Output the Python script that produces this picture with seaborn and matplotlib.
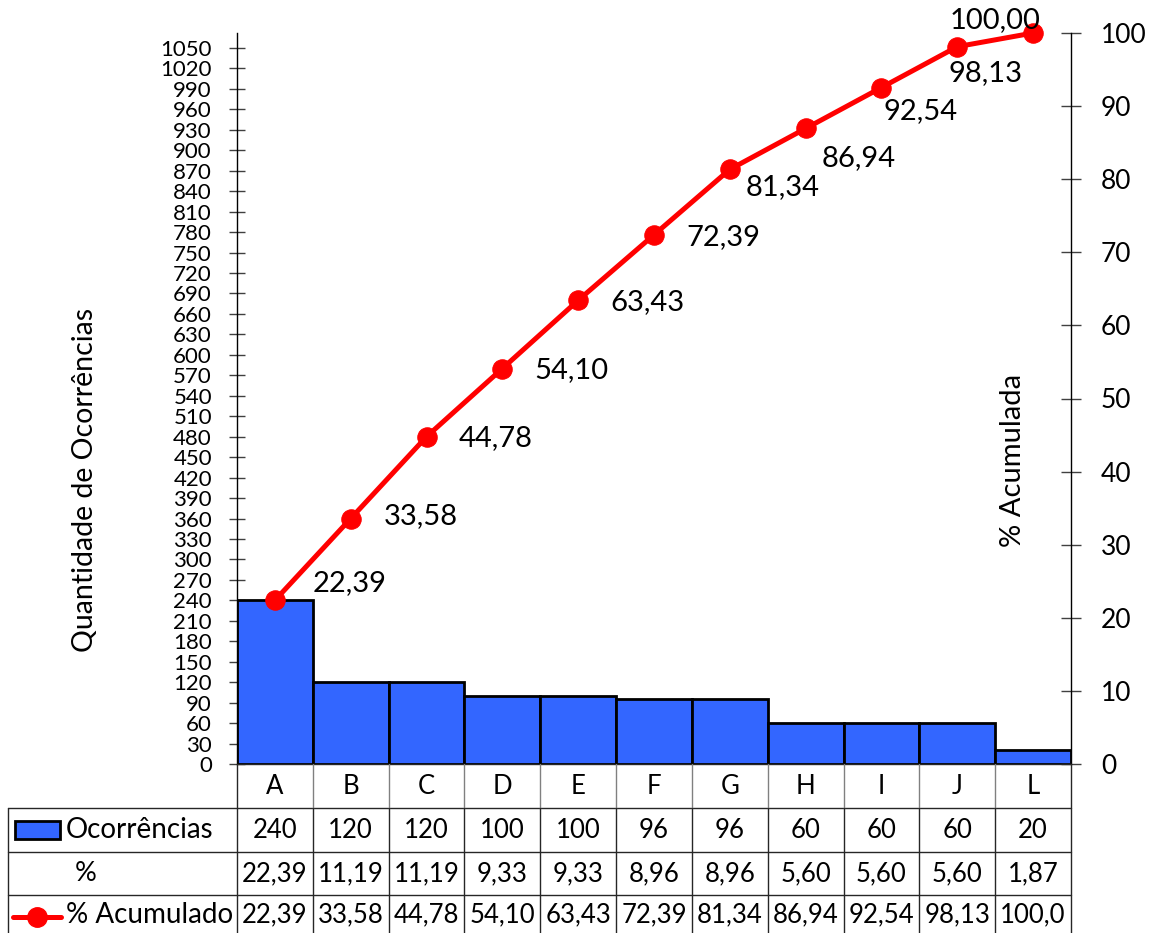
import numpy as np
import pandas as pd
import matplotlib
matplotlib.use('Agg')
import matplotlib.pyplot as plt
import seaborn as sns
from matplotlib.patches import Rectangle
from matplotlib.lines import Line2D

# Dados do gráfico de Pareto
categorias = ['A', 'B', 'C', 'D', 'E', 'F', 'G', 'H', 'I', 'J', 'L']
ocorrencias = [240, 120, 120, 100, 100, 96, 96, 60, 60, 60, 20]
percentual = [22.39, 11.19, 11.19, 9.33, 9.33, 8.96, 8.96, 5.60, 5.60, 5.60, 1.87]
acumulado = [22.39, 33.58, 44.78, 54.10, 63.43, 72.39, 81.34, 86.94, 92.54, 98.13, 100.00]

# deslocamento dos rótulos (pixels) como o Excel os posicionou
rot_dx = [75, 70, 69, 69, 69, 69, 53, 53, 39, 28, -38]
rot_dy = [17, 2, -1, -2, -2, -2, -18, -30, -24, -26, 13]

AZUL = '#3366FF'
VERMELHO = '#FF0000'

def br(v):
    return f'{v:.2f}'.replace('.', ',')

sns.set_style('white')
plt.rcParams['font.family'] = ['Lato', 'DejaVu Sans']
plt.rcParams['text.color'] = 'black'
plt.rcParams['ytick.labelcolor'] = 'black'
plt.rcParams['axes.labelcolor'] = 'black'

W, H = 1153, 933
fig = plt.figure(figsize=(W / 100, H / 100), dpi=100)

# eixo principal (barras)
x0, x1, ytop, ybase = 237, 1071, 33, 764
ax = fig.add_axes([x0 / W, (H - ybase) / H, (x1 - x0) / W, (ybase - ytop) / H])
df = pd.DataFrame({'categoria': categorias, 'ocorrencias': ocorrencias})
sns.barplot(data=df, x='categoria', y='ocorrencias', color=AZUL, saturation=1,
            width=1, edgecolor='black', linewidth=2, ax=ax)
ax.set_xlim(-0.5, len(categorias) - 0.5)
ax.set_ylim(0, sum(ocorrencias))
ax.set_yticks(np.arange(0, 1051, 30))
ax.set_xticks([])
ax.set_xlabel('')
ax.set_ylabel('')
for s in ['top', 'right', 'bottom']:
    ax.spines[s].set_visible(False)
ax.spines['left'].set_color('black')
ax.spines['left'].set_linewidth(1)
ax.tick_params(axis='y', direction='inout', length=11.5, width=1, color='#404040',
               pad=12.3, labelsize=16, left=True, labelcolor='black')

# eixo secundário (% acumulada)
ax2 = ax.twinx()
sns.lineplot(x=np.arange(len(categorias)), y=acumulado, ax=ax2, color=VERMELHO,
             linewidth=3.6, marker='o', markersize=14, markeredgecolor=VERMELHO,
             markerfacecolor=VERMELHO, clip_on=False)
ax2.set_ylim(0, 100)
ax2.set_yticks(np.arange(0, 101, 10))
ax2.set_xlim(-0.5, len(categorias) - 0.5)
for s in ['top', 'left', 'bottom']:
    ax2.spines[s].set_visible(False)
ax2.spines['right'].set_color('black')
ax2.spines['right'].set_linewidth(1)
ax2.tick_params(axis='y', direction='inout', length=15, width=1, color='#404040',
                pad=14, labelsize=19, right=True, labelcolor='black')
for i, v in enumerate(acumulado):
    ax2.annotate(br(v), (i, v), xytext=(rot_dx[i], rot_dy[i]), textcoords='offset pixels',
                 ha='center', va='center', fontsize=21, color='black', annotation_clip=False)

fig.text(85 / W, 1 - 480 / H, 'Quantidade de Ocorrências', rotation=90,
         ha='center', va='center', fontsize=20.5)
fig.text(1013 / W, 1 - 460 / H, '% Acumulada', rotation=90,
         ha='center', va='center', fontsize=21)

# tabela de dados abaixo do gráfico
tx0 = 8
colw = (x1 - x0) / len(categorias)
tab = fig.add_axes([tx0 / W, 0, (x1 - tx0) / W, (H - ybase) / H])
esq = -0.5 - (x0 - tx0) / colw
tab.set_xlim(esq, len(categorias) - 0.5)
tab.set_ylim(H - ybase, 0)
tab.axis('off')

def u(px):
    return esq + (px - tx0) / colw

linhas = [0, 44, 88, 131, 176]
n = len(categorias)
kw = dict(color='#262626', lw=1, clip_on=False)
tab.plot([-0.5, n - 0.5], [0, 0], **kw)
for yl in linhas[1:4]:
    tab.plot([esq, n - 0.5], [yl, yl], **kw)
tab.plot([-0.5, -0.5], [0, linhas[-1]], **kw)
tab.plot([n - 0.5, n - 0.5], [0, linhas[-1]], **kw)
tab.plot([esq, esq], [linhas[1], linhas[-1]], **kw)
for k in range(1, n):
    tab.plot([k - 0.5, k - 0.5], [0, linhas[1]], color='#808080', lw=1)
    tab.plot([k - 0.5, k - 0.5], [linhas[1], linhas[-1]], **kw)

centros = [(linhas[j] + linhas[j + 1]) / 2 for j in range(4)]
centros[3] = 151
for i in range(n):
    tab.text(i, centros[0], categorias[i], ha='center', va='center', fontsize=18.5)
    tab.text(i, centros[1], str(ocorrencias[i]), ha='center', va='center', fontsize=18.5)
    tab.text(i, centros[2], br(percentual[i]), ha='center', va='center', fontsize=18.5)
    tab.text(i, centros[3], br(acumulado[i])[:5], ha='center', va='center', fontsize=18.5)

tab.add_patch(Rectangle((u(15), centros[1] - 9), u(60) - u(15), 18,
                        facecolor=AZUL, edgecolor='black', lw=2))
tab.add_line(Line2D([u(13), u(61)], [centros[3] + 2, centros[3] + 2], color=VERMELHO, lw=3.6))
tab.plot([u(37)], [centros[3] + 2], 'o', color=VERMELHO, markersize=14)
tab.text(u(66), centros[1], 'Ocorrências', ha='left', va='center', fontsize=20)
tab.text(u(86), centros[2], '%', ha='center', va='center', fontsize=19.5)
tab.text(u(66), centros[3], '% Acumulado', ha='left', va='center', fontsize=20)

fig.savefig('out.png', dpi=100)
